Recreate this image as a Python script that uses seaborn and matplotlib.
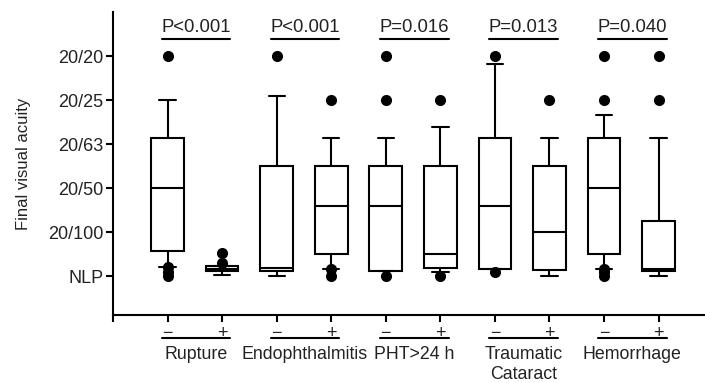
import numpy as np
import pandas as pd
import matplotlib
matplotlib.use("Agg")
import matplotlib.pyplot as plt
import seaborn as sns

# ---- data (y units: NLP=0 ... 20/20=5) ----
groups = ["Rupture", "Endophthalmitis", "PHT>24 h", "Traumatic\nCataract", "Hemorrhage"]
signs = ["\u2212", "+"]
p_values = ["P<0.001", "P<0.001", "P=0.016", "P=0.013", "P=0.040"]
ytick_labels = ["NLP", "20/100", "20/50", "20/63", "20/25", "20/20"]

# box summary: lower whisker, Q1, median, Q3, upper whisker
whisker_low = [0.20, 0.02, 0.00, 0.17, 0.12, 0.08, 0.17, 0.00, 0.17, 0.00]
q1          = [0.575, 0.12, 0.12, 0.50, 0.12, 0.19, 0.17, 0.14, 0.50, 0.12]
median      = [2.00, 0.17, 0.19, 1.59, 1.59, 0.50, 1.59, 1.01, 2.00, 0.15]
q3          = [3.14, 0.23, 2.51, 2.51, 2.51, 2.51, 3.13, 2.51, 3.13, 1.26]
whisker_high= [4.00, 0.23, 4.10, 3.13, 3.13, 3.39, 4.81, 3.13, 3.66, 3.13]

outliers = [
    [5.0, 0.2, 0.1, 0.0],
    [0.52, 0.29],
    [5.0],
    [4.0, 0.17, 0.0],
    [5.0, 4.0, 0.0],
    [4.0, 0.0],
    [5.0, 0.08],
    [4.0],
    [5.0, 4.0, 0.17, 0.08, 0.0],
    [5.0, 4.0],
]

# ---- build long-form tables ----
cats = [f"{g}|{s}" for g in groups for s in signs]
box_rows = []
for i, c in enumerate(cats):
    for v in (whisker_low[i], q1[i], median[i], q3[i], whisker_high[i]):
        box_rows.append({"cat": c, "value": v})
box_df = pd.DataFrame(box_rows)
out_rows = [{"cat": cats[i], "value": v} for i, vals in enumerate(outliers) for v in vals]
out_df = pd.DataFrame(out_rows)

sns.set_theme(style="ticks")
plt.rcParams["font.family"] = ["Liberation Sans", "DejaVu Sans"]

fig = plt.figure(figsize=(7.05, 3.83), dpi=100)
ax = fig.add_axes([113 / 705, 1 - 315 / 383, 1 - 113 / 705, (315 - 12) / 383])

lw = 1.5
txt = "#222222"
sns.boxplot(data=box_df, x="cat", y="value", order=cats, ax=ax,
            whis=(0, 100), showfliers=False, width=0.6,
            color="white", linecolor="black", linewidth=lw,
            boxprops=dict(facecolor="white", edgecolor="black", linewidth=lw),
            medianprops=dict(color="black", linewidth=lw),
            whiskerprops=dict(color="black", linewidth=lw),
            capprops=dict(color="black", linewidth=lw))
sns.stripplot(data=out_df, x="cat", y="value", order=cats, ax=ax,
              jitter=False, color="black", size=8, zorder=5)

ax.set_xlim(-1, 9.85)
ax.set_ylim(-0.886, 6.0)
ax.set_yticks(range(len(ytick_labels)))
ax.set_yticklabels(ytick_labels, fontsize=13, color=txt)
ax.set_ylabel("Final visual acuity", fontsize=12, color=txt, labelpad=12)
ax.set_xlabel("")
xt = list(range(len(cats)))
ax.set_xticks([-1] + xt)
ax.set_xticklabels([""] + [s for g in groups for s in signs], fontsize=13, color=txt)
ax.tick_params(axis="both", length=5, width=lw, color="black", pad=2)
for side in ("left", "bottom"):
    ax.spines[side].set_linewidth(lw)
    ax.spines[side].set_color("black")
sns.despine(ax=ax)

# p-value annotations and group labels
xtr = ax.get_xaxis_transform()
for gi, (g, p) in enumerate(zip(groups, p_values)):
    x0, x1 = 2 * gi - 0.11, 2 * gi + 1.15
    xc = (x0 + x1) / 2
    ax.plot([x0, x1], [5.39, 5.39], color="black", lw=lw, clip_on=False)
    ax.text(xc, 5.46, p, ha="center", va="bottom", fontsize=13.3, color=txt)
    ax.plot([x0, x1], [-0.075, -0.075], color="black", lw=lw, clip_on=False,
            transform=xtr)
    ax.text(xc, -0.103, g, ha="center", va="top", fontsize=12.8, color=txt,
            transform=xtr, linespacing=1.25)

fig.savefig("out.png", dpi=100)
